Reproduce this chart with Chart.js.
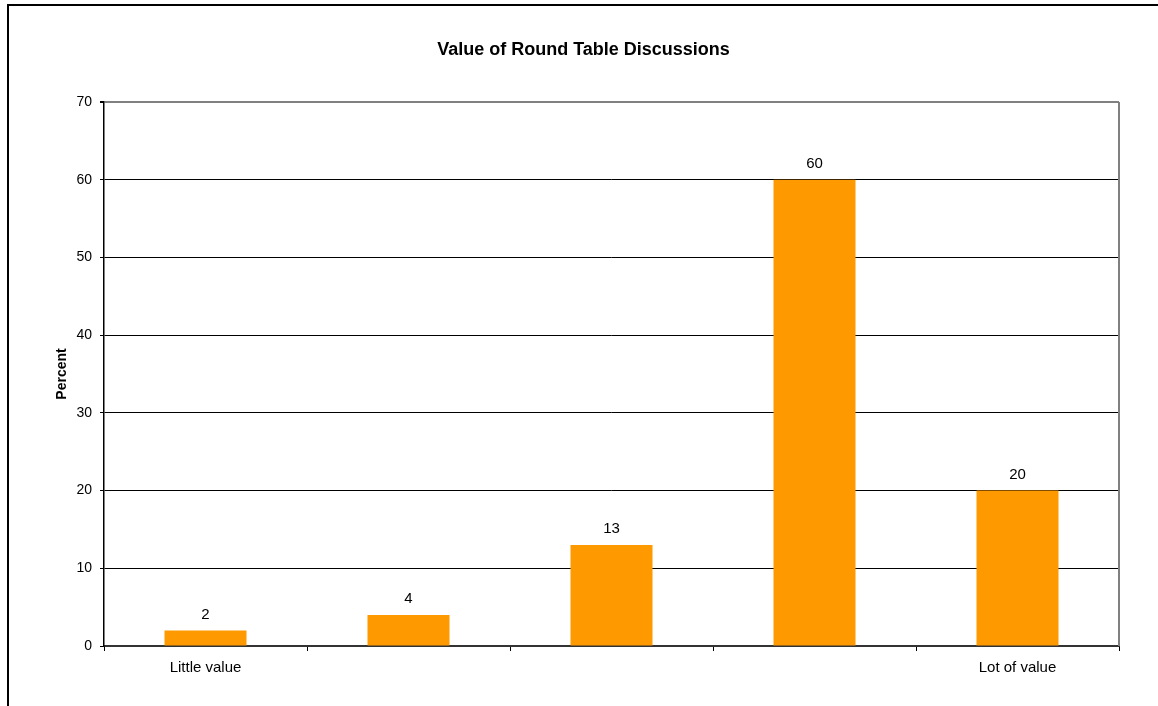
<!DOCTYPE html>
<html>
<head>
<meta charset="utf-8">
<title>Value of Round Table Discussions</title>
<script src="https://cdn.jsdelivr.net/npm/chart.js@4.4.1/dist/chart.umd.min.js"></script>
<style>
  html, body { margin: 0; padding: 0; background: #fff; }
  #wrap { width: 1158px; height: 706px; position: relative; }
</style>
</head>
<body>
<div id="wrap"><canvas id="chart" width="1158" height="706"></canvas></div>
<script>
// Survey responses, percent of respondents
const categories = ['Little value', '', '', '', 'Lot of value'];
const percentValues = [2, 4, 13, 60, 20];
const yTicks = { min: 0, max: 70, step: 10 };

const FONT = "'Liberation Sans', Arial, sans-serif";

// Outer frame of the sheet and the grey right-hand border of the plot area
const framePlugin = {
  id: 'frame',
  afterDraw(chart) {
    const { ctx, chartArea } = chart;
    ctx.save();
    ctx.strokeStyle = '#000';
    ctx.lineWidth = 2;
    ctx.beginPath();
    ctx.moveTo(8, 706);
    ctx.lineTo(8, 5);
    ctx.lineTo(1158, 5);
    ctx.stroke();
    ctx.strokeStyle = '#808080';
    ctx.lineWidth = 2;
    ctx.beginPath();
    ctx.moveTo(chartArea.right, chartArea.top);
    ctx.lineTo(chartArea.right, chartArea.bottom);
    ctx.stroke();
    ctx.restore();
  }
};

// Value labels above each bar
const valueLabels = {
  id: 'valueLabels',
  afterDatasetsDraw(chart) {
    const { ctx } = chart;
    ctx.save();
    ctx.font = '15px ' + FONT;
    ctx.fillStyle = '#000';
    ctx.textAlign = 'center';
    ctx.textBaseline = 'middle';
    chart.data.datasets.forEach((ds, di) => {
      chart.getDatasetMeta(di).data.forEach((bar, i) => {
        ctx.fillText(String(ds.data[i]), bar.x, bar.y - 16);
      });
    });
    ctx.restore();
  }
};

new Chart(document.getElementById('chart'), {
  type: 'bar',
  data: {
    labels: categories,
    datasets: [{
      data: percentValues,
      backgroundColor: '#FF9900',
      borderWidth: 0,
      barPercentage: 0.404,
      categoryPercentage: 1
    }]
  },
  options: {
    responsive: false,
    animation: false,
    layout: { padding: { left: 48, right: 39, top: 0, bottom: 0 } },
    plugins: {
      legend: { display: false },
      tooltip: { enabled: false },
      title: {
        display: true,
        text: 'Value of Round Table Discussions',
        color: '#000',
        font: { family: FONT, size: 18, weight: 'bold' },
        padding: { top: 39.4, bottom: 41 }
      }
    },
    scales: {
      x: {
        afterFit(scale) { scale.height = 60; },
        grid: {
          offset: true,
          drawOnChartArea: false,
          drawTicks: true,
          tickLength: 5,
          tickColor: '#000'
        },
        border: { display: true, color: '#333', width: 2 },
        ticks: {
          color: '#000',
          padding: 8,
          maxRotation: 0,
          autoSkip: false,
          font: { family: FONT, size: 15 }
        }
      },
      y: {
        min: yTicks.min,
        max: yTicks.max,
        afterFit(scale) { scale.width = 56; },
        grid: {
          color: (c) => (c.tick && c.tick.value === yTicks.max ? '#808080' : '#000'),
          lineWidth: (c) => (c.tick && c.tick.value === yTicks.max ? 2 : 1),
          tickColor: '#000',
          tickLength: 4
        },
        border: { display: true, color: '#000', width: 1.5 },
        ticks: {
          stepSize: yTicks.step,
          color: '#000',
          padding: 8,
          font: { family: FONT, size: 14 }
        },
        title: {
          display: true,
          text: 'Percent',
          color: '#000',
          font: { family: FONT, size: 14, weight: 'bold' },
          padding: { top: 6, bottom: 0 }
        }
      }
    }
  },
  plugins: [framePlugin, valueLabels]
});
</script>
</body>
</html>
